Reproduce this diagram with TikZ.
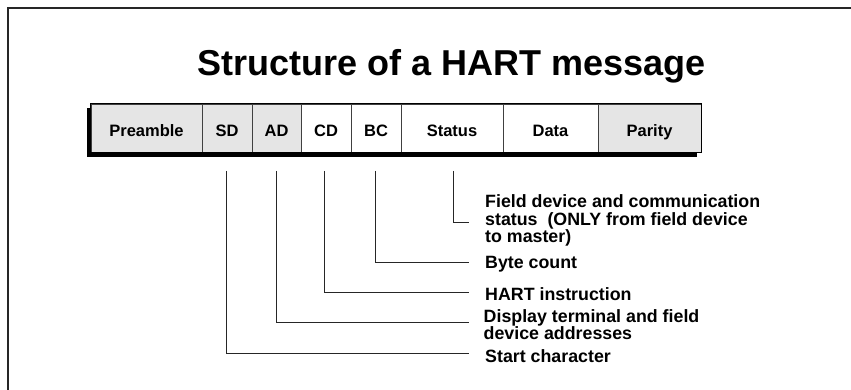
\documentclass[tikz,border=0pt]{standalone}
\usepackage{fontspec}
\setmainfont{Liberation Sans}
\begin{document}
\begin{tikzpicture}[x=1pt,y=-1pt,
  cell/.style={draw=black!75, line width=0.7pt, minimum height=48pt, inner sep=0pt,
    text height=18pt, text depth=0pt, font=\bfseries\fontsize{16.5}{17.5}\selectfont},
  shaded/.style={cell, fill=black!10},
  plain/.style={cell, fill=white},
  lead/.style={draw=black!85, line width=0.9pt},
  note/.style={anchor=base west, inner sep=0pt, align=left,
    font=\bfseries\fontsize{17.8}{17.5}\selectfont}]
\useasboundingbox (0,0) rectangle (851,390);
\fill[white] (0,0) rectangle (851,390);
% page frame
\draw[line width=2pt, black!85] (851,8) -- (7.5,8) -- (7.5,390);
% heading
\node[anchor=base, inner sep=0pt, font=\bfseries\fontsize{36}{40}\selectfont] (title) at (452,76) {Structure of a HART message};
% drop shadow of the frame bar
\fill[black] (86.5,108) rectangle (697,157);
% message fields
\node[shaded, minimum width=111pt] (pre) at (146.5,128) {Preamble};
\node[shaded, minimum width=50pt] (sd) at (227,128) {SD};
\node[shaded, minimum width=49pt] (ad) at (276.5,128) {AD};
\node[plain, minimum width=50pt] (cd) at (326,128) {CD};
\node[plain, minimum width=50pt] (bc) at (376,128) {BC};
\node[plain, minimum width=102pt] (st) at (452,128) {Status};
\node[plain, minimum width=95pt] (data) at (550.5,128) {Data};
\node[shaded, minimum width=103pt] (par) at (649.5,128) {Parity};
\draw[black, line width=1pt] (pre.north west) rectangle (par.south east);
% leader lines
\coordinate (sdtop) at (226,171);
\coordinate (adtop) at (276,171);
\coordinate (cdtop) at (324.5,171);
\coordinate (bctop) at (375.5,171);
\coordinate (sttop) at (453,171);
\coordinate (sdend) at (469,353.7);
\coordinate (adend) at (469,322.7);
\coordinate (cdend) at (469,292.3);
\coordinate (bcend) at (469,262.3);
\coordinate (stend) at (469,222.7);
\draw[lead] (sdtop) |- (sdend);
\draw[lead] (adtop) |- (adend);
\draw[lead] (cdtop) |- (cdend);
\draw[lead] (bctop) |- (bcend);
\draw[lead] (sttop) |- (stend);
% field descriptions (base = baseline of the last line)
\node[note] (sdlbl) at (485,362.7) {Start character};
\node[note] (adlbl) at (483.5,339.5) {Display terminal and field\\device addresses};
\node[note] (cdlbl) at (485,300) {HART instruction};
\node[note] (bclbl) at (485,268.3) {Byte count};
\node[note] (stlbl) at (485,242.7) {Field device and communication\\status~ (ONLY from field device\\to master)};
\end{tikzpicture}
\end{document}
